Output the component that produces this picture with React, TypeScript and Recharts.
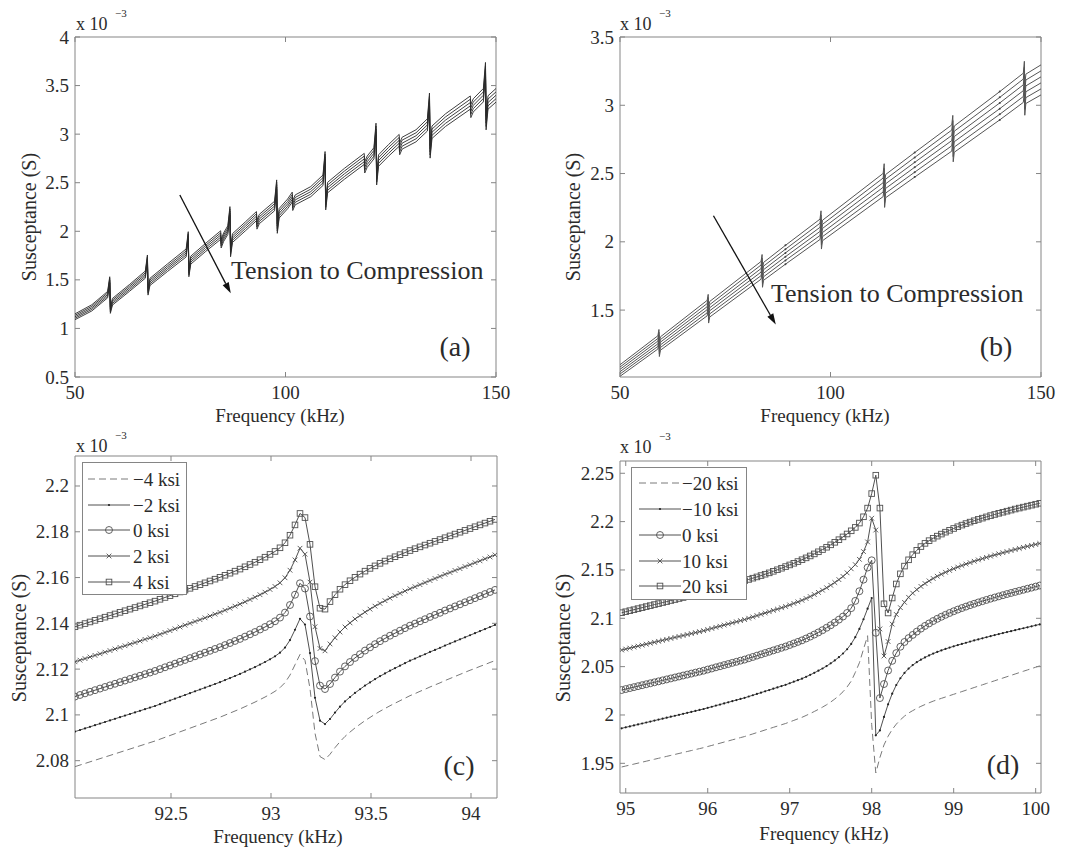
import React from "react";
import { LineChart, Line, XAxis, YAxis, ReferenceArea, ReferenceLine } from "recharts";

const SERIF = '"Liberation Serif", "Times New Roman", serif';
const INK = "#2b2b2b";
const FRAME = "#858585";
const TRACE = "#505050";

// ---------- (a) susceptance 50-150 kHz, five stress levels (tension -> compression)
const A_FREQ = [
  50, 54, 57.75, 58.25, 58.4, 58.9, 63, 66.7, 67.2, 67.35,
  67.8, 72, 76.4, 76.9, 77.05, 77.5, 81, 84.6, 84.72, 85.3,
  86.3, 86.8, 86.95, 87.4, 90.5, 93.1, 93.22, 93.8, 97.4, 97.9,
  98.05, 98.5, 100.5, 101.6, 101.72, 102.3, 106, 108.9, 109.4, 109.55,
  110, 114, 118.7, 118.82, 119.4, 121, 121.5, 121.65, 122.1, 124.5,
  127, 127.12, 127.7, 131, 133.7, 134.2, 134.35, 134.8, 138, 143.9,
  144.02, 144.6, 147, 147.5, 147.65, 148.1, 150,
];
const A_S1 = [
  1.150, 1.244, 1.381, 1.532, 1.221, 1.309, 1.454, 1.591, 1.756, 1.417,
  1.516, 1.665, 1.818, 1.996, 1.614, 1.744, 1.875, 2.005, 1.916, 1.983,
  2.057, 2.254, 1.828, 1.975, 2.098, 2.203, 2.116, 2.175, 2.309, 2.529,
  2.077, 2.235, 2.332, 2.403, 2.316, 2.374, 2.460, 2.579, 2.821, 2.328,
  2.504, 2.648, 2.802, 2.716, 2.774, 2.861, 3.113, 2.595, 2.787, 2.894,
  2.997, 2.910, 2.968, 3.045, 3.158, 3.423, 2.881, 3.084, 3.209, 3.393,
  3.306, 3.364, 3.470, 3.738, 3.182, 3.395, 3.470,
];
const A_S2 = [
  1.135, 1.228, 1.365, 1.516, 1.205, 1.292, 1.437, 1.572, 1.737, 1.398,
  1.498, 1.645, 1.797, 1.975, 1.593, 1.724, 1.854, 1.983, 1.894, 1.961,
  2.034, 2.231, 1.805, 1.952, 2.075, 2.180, 2.093, 2.151, 2.284, 2.505,
  2.053, 2.211, 2.307, 2.377, 2.290, 2.348, 2.434, 2.552, 2.794, 2.301,
  2.477, 2.620, 2.774, 2.687, 2.745, 2.832, 3.083, 2.565, 2.757, 2.864,
  2.966, 2.879, 2.938, 3.014, 3.127, 3.391, 2.849, 3.052, 3.177, 3.359,
  3.272, 3.330, 3.435, 3.704, 3.148, 3.361, 3.435,
];
const A_S3 = [
  1.120, 1.212, 1.348, 1.499, 1.188, 1.275, 1.419, 1.554, 1.719, 1.380,
  1.479, 1.626, 1.777, 1.955, 1.573, 1.703, 1.833, 1.961, 1.872, 1.939,
  2.012, 2.209, 1.783, 1.930, 2.052, 2.156, 2.069, 2.127, 2.260, 2.480,
  2.028, 2.186, 2.282, 2.352, 2.265, 2.323, 2.408, 2.525, 2.767, 2.274,
  2.450, 2.592, 2.745, 2.658, 2.716, 2.803, 3.054, 2.536, 2.728, 2.834,
  2.936, 2.849, 2.907, 2.983, 3.095, 3.359, 2.817, 3.020, 3.144, 3.325,
  3.238, 3.296, 3.401, 3.669, 3.113, 3.326, 3.400,
];
const A_S4 = [
  1.105, 1.196, 1.331, 1.482, 1.171, 1.258, 1.401, 1.536, 1.701, 1.362,
  1.460, 1.607, 1.757, 1.935, 1.553, 1.683, 1.812, 1.939, 1.850, 1.917,
  1.990, 2.187, 1.761, 1.908, 2.029, 2.132, 2.045, 2.103, 2.236, 2.455,
  2.003, 2.161, 2.257, 2.327, 2.240, 2.298, 2.382, 2.498, 2.740, 2.247,
  2.423, 2.564, 2.716, 2.629, 2.687, 2.774, 3.025, 2.507, 2.699, 2.804,
  2.906, 2.819, 2.876, 2.952, 3.063, 3.327, 2.785, 2.988, 3.111, 3.291,
  3.204, 3.262, 3.367, 3.635, 3.079, 3.291, 3.365,
];
const A_S5 = [
  1.090, 1.180, 1.315, 1.466, 1.155, 1.241, 1.384, 1.517, 1.682, 1.343,
  1.442, 1.587, 1.736, 1.914, 1.532, 1.662, 1.791, 1.917, 1.828, 1.895,
  1.967, 2.164, 1.738, 1.885, 2.006, 2.109, 2.022, 2.079, 2.211, 2.431,
  1.979, 2.137, 2.232, 2.301, 2.214, 2.272, 2.356, 2.471, 2.713, 2.220,
  2.396, 2.536, 2.688, 2.600, 2.658, 2.745, 2.995, 2.477, 2.669, 2.774,
  2.875, 2.788, 2.846, 2.921, 3.032, 3.295, 2.753, 2.956, 3.079, 3.257,
  3.170, 3.228, 3.332, 3.600, 3.044, 3.257, 3.330,
];

// ---------- (b) six stress levels, wider spread
const B_FREQ = [
  50, 59, 59.25, 59.35, 59.6, 70.7, 70.95, 71.05, 71.3, 83.5,
  83.75, 83.85, 84.1, 89.3, 97.5, 97.75, 97.85, 98.1, 112.5, 112.75,
  112.85, 113.1, 120, 128.8, 129.05, 129.15, 129.4, 140.2, 145.8, 146.05,
  146.15, 146.4, 150,
];
const B_S1 = [
  1.100, 1.312, 1.358, 1.258, 1.304, 1.571, 1.615, 1.519, 1.563, 1.856,
  1.907, 1.797, 1.849, 1.974, 2.166, 2.227, 2.097, 2.158, 2.501, 2.572,
  2.422, 2.493, 2.654, 2.856, 2.926, 2.778, 2.848, 3.100, 3.235, 3.322,
  3.142, 3.228, 3.296,
];
const B_S2 = [
  1.083, 1.292, 1.338, 1.238, 1.284, 1.548, 1.592, 1.496, 1.540, 1.830,
  1.881, 1.771, 1.822, 1.946, 2.136, 2.197, 2.067, 2.128, 2.467, 2.538,
  2.388, 2.459, 2.618, 2.818, 2.888, 2.740, 2.810, 3.058, 3.192, 3.279,
  3.099, 3.185, 3.252,
];
const B_S3 = [
  1.066, 1.273, 1.319, 1.219, 1.265, 1.525, 1.569, 1.473, 1.517, 1.804,
  1.855, 1.745, 1.796, 1.919, 2.106, 2.167, 2.037, 2.098, 2.433, 2.504,
  2.354, 2.425, 2.582, 2.779, 2.849, 2.701, 2.771, 3.017, 3.150, 3.236,
  3.056, 3.142, 3.208,
];
const B_S4 = [
  1.049, 1.253, 1.299, 1.199, 1.245, 1.503, 1.547, 1.451, 1.495, 1.778,
  1.829, 1.719, 1.770, 1.891, 2.076, 2.137, 2.007, 2.068, 2.399, 2.470,
  2.320, 2.391, 2.546, 2.741, 2.811, 2.663, 2.733, 2.975, 3.107, 3.193,
  3.013, 3.099, 3.164,
];
const B_S5 = [
  1.032, 1.234, 1.280, 1.180, 1.226, 1.480, 1.524, 1.428, 1.472, 1.752,
  1.803, 1.693, 1.744, 1.864, 2.046, 2.107, 1.977, 2.038, 2.365, 2.436,
  2.286, 2.357, 2.510, 2.703, 2.772, 2.624, 2.694, 2.934, 3.064, 3.150,
  2.970, 3.056, 3.120,
];
const B_S6 = [
  1.015, 1.215, 1.260, 1.160, 1.206, 1.458, 1.501, 1.405, 1.449, 1.726,
  1.777, 1.667, 1.718, 1.836, 2.017, 2.077, 1.947, 2.008, 2.331, 2.402,
  2.252, 2.323, 2.474, 2.664, 2.734, 2.586, 2.656, 2.893, 3.021, 3.107,
  2.927, 3.013, 3.076,
];
const B_SMALL_PEAKS = [89.3, 120, 140.2];

// ---------- (c) zoom near 93.2 kHz
const C_FREQ = [
  92.02, 92.045, 92.07, 92.095, 92.12, 92.145, 92.17, 92.195, 92.22, 92.245,
  92.27, 92.295, 92.32, 92.345, 92.37, 92.395, 92.42, 92.445, 92.47, 92.495,
  92.52, 92.545, 92.57, 92.595, 92.62, 92.645, 92.67, 92.695, 92.72, 92.745,
  92.77, 92.795, 92.82, 92.845, 92.87, 92.895, 92.92, 92.945, 92.97, 92.995,
  93.02, 93.045, 93.07, 93.095, 93.12, 93.145, 93.17, 93.195, 93.22, 93.245,
  93.27, 93.295, 93.32, 93.345, 93.37, 93.395, 93.42, 93.445, 93.47, 93.495,
  93.52, 93.545, 93.57, 93.595, 93.62, 93.645, 93.67, 93.695, 93.72, 93.745,
  93.77, 93.795, 93.82, 93.845, 93.87, 93.895, 93.92, 93.945, 93.97, 93.995,
  94.02, 94.045, 94.07, 94.095, 94.12,
];
const C_M4 = [
  2.0774, 2.0781, 2.0788, 2.0795, 2.0802, 2.0809, 2.0816, 2.0823, 2.0830, 2.0837,
  2.0844, 2.0851, 2.0858, 2.0865, 2.0872, 2.0879, 2.0886, 2.0894, 2.0902, 2.0910,
  2.0918, 2.0926, 2.0934, 2.0942, 2.0950, 2.0958, 2.0966, 2.0974, 2.0982, 2.0990,
  2.0999, 2.1008, 2.1017, 2.1026, 2.1036, 2.1046, 2.1056, 2.1067, 2.1078, 2.1090,
  2.1103, 2.1119, 2.1141, 2.1174, 2.1219, 2.1264, 2.1238, 2.1115, 2.0920, 2.0818,
  2.0805, 2.0828, 2.0857, 2.0883, 2.0906, 2.0925, 2.0943, 2.0959, 2.0975, 2.0989,
  2.1003, 2.1016, 2.1028, 2.1040, 2.1051, 2.1062, 2.1073, 2.1084, 2.1093, 2.1103,
  2.1112, 2.1122, 2.1131, 2.1140, 2.1150, 2.1159, 2.1168, 2.1177, 2.1186, 2.1195,
  2.1203, 2.1212, 2.1220, 2.1229, 2.1237,
];
const C_M2 = [
  2.0927, 2.0934, 2.0941, 2.0948, 2.0955, 2.0962, 2.0969, 2.0976, 2.0983, 2.0990,
  2.0997, 2.1004, 2.1011, 2.1018, 2.1025, 2.1032, 2.1039, 2.1047, 2.1055, 2.1063,
  2.1071, 2.1079, 2.1087, 2.1095, 2.1103, 2.1111, 2.1119, 2.1127, 2.1135, 2.1143,
  2.1152, 2.1161, 2.1170, 2.1179, 2.1189, 2.1199, 2.1209, 2.1220, 2.1231, 2.1243,
  2.1256, 2.1272, 2.1294, 2.1327, 2.1372, 2.1420, 2.1395, 2.1270, 2.1075, 2.0975,
  2.0960, 2.0982, 2.1010, 2.1036, 2.1059, 2.1078, 2.1096, 2.1112, 2.1128, 2.1142,
  2.1156, 2.1169, 2.1181, 2.1193, 2.1204, 2.1215, 2.1226, 2.1237, 2.1246, 2.1256,
  2.1265, 2.1275, 2.1284, 2.1293, 2.1303, 2.1312, 2.1321, 2.1330, 2.1339, 2.1348,
  2.1357, 2.1366, 2.1375, 2.1384, 2.1393,
];
const C_0 = [
  2.1080, 2.1087, 2.1094, 2.1101, 2.1108, 2.1115, 2.1122, 2.1129, 2.1136, 2.1143,
  2.1150, 2.1157, 2.1164, 2.1171, 2.1178, 2.1185, 2.1192, 2.1200, 2.1208, 2.1216,
  2.1224, 2.1232, 2.1240, 2.1248, 2.1256, 2.1264, 2.1272, 2.1280, 2.1288, 2.1296,
  2.1305, 2.1314, 2.1323, 2.1332, 2.1342, 2.1352, 2.1362, 2.1373, 2.1384, 2.1396,
  2.1409, 2.1425, 2.1447, 2.1480, 2.1525, 2.1575, 2.1552, 2.1430, 2.1235, 2.1128,
  2.1113, 2.1135, 2.1163, 2.1189, 2.1212, 2.1231, 2.1249, 2.1265, 2.1281, 2.1295,
  2.1309, 2.1322, 2.1334, 2.1346, 2.1357, 2.1368, 2.1379, 2.1390, 2.1399, 2.1409,
  2.1418, 2.1428, 2.1437, 2.1446, 2.1456, 2.1465, 2.1474, 2.1483, 2.1492, 2.1501,
  2.1510, 2.1519, 2.1528, 2.1537, 2.1546,
];
const C_P2 = [
  2.1232, 2.1239, 2.1246, 2.1253, 2.1260, 2.1267, 2.1274, 2.1281, 2.1288, 2.1295,
  2.1302, 2.1309, 2.1316, 2.1323, 2.1330, 2.1337, 2.1344, 2.1352, 2.1360, 2.1368,
  2.1376, 2.1384, 2.1392, 2.1400, 2.1408, 2.1416, 2.1424, 2.1432, 2.1440, 2.1448,
  2.1457, 2.1466, 2.1475, 2.1484, 2.1494, 2.1504, 2.1514, 2.1525, 2.1536, 2.1548,
  2.1561, 2.1577, 2.1599, 2.1632, 2.1677, 2.1728, 2.1702, 2.1580, 2.1385, 2.1290,
  2.1280, 2.1310, 2.1337, 2.1362, 2.1384, 2.1402, 2.1419, 2.1434, 2.1449, 2.1462,
  2.1475, 2.1487, 2.1499, 2.1510, 2.1521, 2.1531, 2.1541, 2.1551, 2.1560, 2.1569,
  2.1578, 2.1587, 2.1596, 2.1605, 2.1614, 2.1622, 2.1631, 2.1639, 2.1648, 2.1656,
  2.1665, 2.1673, 2.1682, 2.1690, 2.1699,
];
const C_P4 = [
  2.1385, 2.1392, 2.1399, 2.1406, 2.1413, 2.1420, 2.1427, 2.1434, 2.1441, 2.1448,
  2.1455, 2.1462, 2.1469, 2.1476, 2.1483, 2.1490, 2.1497, 2.1505, 2.1513, 2.1521,
  2.1529, 2.1537, 2.1545, 2.1553, 2.1561, 2.1569, 2.1577, 2.1585, 2.1593, 2.1601,
  2.1610, 2.1619, 2.1628, 2.1637, 2.1647, 2.1657, 2.1667, 2.1678, 2.1689, 2.1701,
  2.1714, 2.1730, 2.1752, 2.1785, 2.1830, 2.1880, 2.1862, 2.1745, 2.1560, 2.1466,
  2.1462, 2.1495, 2.1525, 2.1549, 2.1569, 2.1586, 2.1601, 2.1615, 2.1628, 2.1640,
  2.1651, 2.1662, 2.1672, 2.1682, 2.1691, 2.1700, 2.1709, 2.1718, 2.1726, 2.1734,
  2.1742, 2.1750, 2.1758, 2.1766, 2.1774, 2.1782, 2.1790, 2.1798, 2.1806, 2.1814,
  2.1822, 2.1830, 2.1838, 2.1846, 2.1854,
];
const C_LEGEND = ["\u22124 ksi", "\u22122 ksi", "0 ksi", "2 ksi", "4 ksi"];

// ---------- (d) zoom near 98 kHz
const D_FREQ = [
  94.95, 95, 95.05, 95.1, 95.15, 95.2, 95.25, 95.3, 95.35, 95.4,
  95.45, 95.5, 95.55, 95.6, 95.65, 95.7, 95.75, 95.8, 95.85, 95.9,
  95.95, 96, 96.05, 96.1, 96.15, 96.2, 96.25, 96.3, 96.35, 96.4,
  96.45, 96.5, 96.55, 96.6, 96.65, 96.7, 96.75, 96.8, 96.85, 96.9,
  96.95, 97, 97.05, 97.1, 97.15, 97.2, 97.25, 97.3, 97.35, 97.4,
  97.45, 97.5, 97.55, 97.6, 97.65, 97.7, 97.75, 97.8, 97.85, 97.9,
  97.95, 98, 98.05, 98.1, 98.15, 98.2, 98.25, 98.3, 98.35, 98.4,
  98.45, 98.5, 98.55, 98.6, 98.65, 98.7, 98.75, 98.8, 98.85, 98.9,
  98.95, 99, 99.05, 99.1, 99.15, 99.2, 99.25, 99.3, 99.35, 99.4,
  99.45, 99.5, 99.55, 99.6, 99.65, 99.7, 99.75, 99.8, 99.85, 99.9,
  99.95, 100, 100.05,
];
const D_M20 = [
  1.9462, 1.9472, 1.9482, 1.9492, 1.9502, 1.9512, 1.9522, 1.9532, 1.9542, 1.9552,
  1.9562, 1.9572, 1.9582, 1.9592, 1.9602, 1.9612, 1.9622, 1.9632, 1.9642, 1.9652,
  1.9662, 1.9674, 1.9685, 1.9697, 1.9708, 1.9720, 1.9731, 1.9743, 1.9754, 1.9766,
  1.9777, 1.9791, 1.9804, 1.9818, 1.9831, 1.9845, 1.9858, 1.9872, 1.9885, 1.9899,
  1.9912, 1.9928, 1.9944, 1.9960, 1.9976, 1.9995, 2.0015, 2.0036, 2.0058, 2.0081,
  2.0106, 2.0134, 2.0165, 2.0200, 2.0240, 2.0290, 2.0350, 2.0440, 2.0540, 2.0680,
  2.0820, 1.9900, 1.9400, 1.9560, 1.9690, 1.9780, 1.9850, 1.9905, 1.9950, 1.9988,
  2.0020, 2.0045, 2.0068, 2.0089, 2.0108, 2.0126, 2.0143, 2.0158, 2.0172, 2.0186,
  2.0200, 2.0214, 2.0228, 2.0242, 2.0256, 2.0270, 2.0284, 2.0298, 2.0312, 2.0326,
  2.0340, 2.0354, 2.0368, 2.0382, 2.0396, 2.0410, 2.0424, 2.0438, 2.0452, 2.0466,
  2.0480, 2.0494, 2.0508,
];
const D_M10 = [
  1.9862, 1.9872, 1.9882, 1.9892, 1.9902, 1.9912, 1.9922, 1.9932, 1.9942, 1.9952,
  1.9962, 1.9972, 1.9982, 1.9992, 2.0002, 2.0012, 2.0022, 2.0032, 2.0042, 2.0052,
  2.0062, 2.0074, 2.0085, 2.0097, 2.0108, 2.0120, 2.0131, 2.0143, 2.0154, 2.0166,
  2.0177, 2.0191, 2.0204, 2.0218, 2.0231, 2.0245, 2.0258, 2.0272, 2.0285, 2.0299,
  2.0312, 2.0328, 2.0344, 2.0360, 2.0376, 2.0395, 2.0415, 2.0436, 2.0458, 2.0481,
  2.0506, 2.0534, 2.0564, 2.0598, 2.0636, 2.0680, 2.0735, 2.0805, 2.0890, 2.0990,
  2.1100, 2.1210, 1.9790, 1.9840, 1.9980, 2.0110, 2.0220, 2.0310, 2.0380, 2.0435,
  2.0480, 2.0516, 2.0546, 2.0572, 2.0595, 2.0616, 2.0635, 2.0652, 2.0668, 2.0683,
  2.0697, 2.0710, 2.0723, 2.0735, 2.0747, 2.0759, 2.0771, 2.0782, 2.0793, 2.0804,
  2.0815, 2.0826, 2.0837, 2.0847, 2.0857, 2.0867, 2.0877, 2.0887, 2.0897, 2.0907,
  2.0917, 2.0927, 2.0937,
];
const D_0 = [
  2.0258, 2.0268, 2.0278, 2.0288, 2.0298, 2.0308, 2.0318, 2.0328, 2.0338, 2.0348,
  2.0358, 2.0368, 2.0378, 2.0388, 2.0398, 2.0408, 2.0418, 2.0428, 2.0438, 2.0448,
  2.0458, 2.0470, 2.0481, 2.0493, 2.0504, 2.0516, 2.0527, 2.0539, 2.0550, 2.0562,
  2.0573, 2.0587, 2.0600, 2.0614, 2.0627, 2.0641, 2.0654, 2.0668, 2.0681, 2.0695,
  2.0708, 2.0724, 2.0740, 2.0756, 2.0772, 2.0791, 2.0811, 2.0832, 2.0854, 2.0877,
  2.0902, 2.0928, 2.0956, 2.0986, 2.1018, 2.1055, 2.1105, 2.1180, 2.1280, 2.1400,
  2.1525, 2.1600, 2.0850, 2.0175, 2.0320, 2.0460, 2.0560, 2.0640, 2.0706, 2.0755,
  2.0795, 2.0828, 2.0862, 2.0893, 2.0921, 2.0947, 2.0972, 2.0995, 2.1016, 2.1036,
  2.1055, 2.1073, 2.1090, 2.1106, 2.1121, 2.1136, 2.1150, 2.1164, 2.1177, 2.1190,
  2.1203, 2.1215, 2.1227, 2.1239, 2.1251, 2.1262, 2.1273, 2.1284, 2.1295, 2.1306,
  2.1317, 2.1328, 2.1339,
];
const D_P10 = [
  2.0672, 2.0682, 2.0692, 2.0702, 2.0712, 2.0722, 2.0732, 2.0742, 2.0752, 2.0762,
  2.0772, 2.0782, 2.0792, 2.0802, 2.0812, 2.0822, 2.0832, 2.0842, 2.0852, 2.0862,
  2.0872, 2.0884, 2.0895, 2.0907, 2.0918, 2.0930, 2.0941, 2.0953, 2.0964, 2.0976,
  2.0987, 2.1001, 2.1014, 2.1028, 2.1041, 2.1055, 2.1068, 2.1082, 2.1095, 2.1109,
  2.1122, 2.1138, 2.1154, 2.1170, 2.1186, 2.1205, 2.1225, 2.1246, 2.1268, 2.1291,
  2.1316, 2.1342, 2.1370, 2.1400, 2.1433, 2.1470, 2.1512, 2.1555, 2.1610, 2.1690,
  2.1790, 2.2035, 2.1913, 2.0890, 2.0610, 2.0760, 2.0940, 2.1040, 2.1110, 2.1165,
  2.1217, 2.1260, 2.1297, 2.1330, 2.1360, 2.1387, 2.1412, 2.1435, 2.1456, 2.1476,
  2.1495, 2.1513, 2.1530, 2.1546, 2.1561, 2.1576, 2.1590, 2.1604, 2.1617, 2.1630,
  2.1643, 2.1655, 2.1667, 2.1679, 2.1690, 2.1701, 2.1712, 2.1723, 2.1734, 2.1744,
  2.1754, 2.1764, 2.1774,
];
const D_P20 = [
  2.1058, 2.1068, 2.1079, 2.1089, 2.1100, 2.1110, 2.1121, 2.1131, 2.1142, 2.1152,
  2.1163, 2.1173, 2.1184, 2.1194, 2.1205, 2.1215, 2.1226, 2.1236, 2.1247, 2.1257,
  2.1268, 2.1279, 2.1290, 2.1301, 2.1313, 2.1325, 2.1337, 2.1350, 2.1363, 2.1376,
  2.1389, 2.1402, 2.1415, 2.1428, 2.1442, 2.1456, 2.1470, 2.1486, 2.1502, 2.1518,
  2.1535, 2.1552, 2.1569, 2.1587, 2.1606, 2.1625, 2.1645, 2.1666, 2.1688, 2.1711,
  2.1735, 2.1760, 2.1786, 2.1813, 2.1842, 2.1872, 2.1905, 2.1940, 2.1985, 2.2050,
  2.2140, 2.2290, 2.2480, 2.2140, 2.1150, 2.1055, 2.1210, 2.1355, 2.1460, 2.1540,
  2.1605, 2.1658, 2.1703, 2.1742, 2.1775, 2.1803, 2.1828, 2.1850, 2.1871, 2.1891,
  2.1910, 2.1929, 2.1947, 2.1964, 2.1980, 2.1995, 2.2009, 2.2023, 2.2036, 2.2049,
  2.2062, 2.2074, 2.2086, 2.2097, 2.2108, 2.2119, 2.2130, 2.2140, 2.2150, 2.2160,
  2.2170, 2.2180, 2.2190,
];
const D_LEGEND = ["\u221220 ksi", "\u221210 ksi", "0 ksi", "10 ksi", "20 ksi"];

// ticks
const AB_XTICKS = [50, 100, 150];
const A_YTICKS = [0.5, 1, 1.5, 2, 2.5, 3, 3.5, 4];
const B_YTICKS = [1.5, 2, 2.5, 3, 3.5];
const C_XTICKS = [92.5, 93, 93.5, 94];
const C_YTICKS = [2.08, 2.1, 2.12, 2.14, 2.16, 2.18, 2.2];
const D_XTICKS = [95, 96, 97, 98, 99, 100];
const D_YTICKS = [1.95, 2, 2.05, 2.1, 2.15, 2.2, 2.25];

type Row = Record<string, number>;
function toRows(freq: number[], series: number[][]): Row[] {
  return freq.map((f, i) => {
    const row: Row = { f };
    series.forEach((s, k) => {
      row[`s${k}`] = s[i];
    });
    return row;
  });
}

type Kind = "dashed" | "dot" | "circle" | "cross" | "square";
const KSI_KINDS: Kind[] = ["dashed", "dot", "circle", "cross", "square"];

function Marker({ kind, cx, cy, size }: { kind: Kind; cx: number; cy: number; size: number }) {
  if (kind === "dot") return <circle cx={cx} cy={cy} r={1.1} fill="#222" />;
  if (kind === "circle")
    return <circle cx={cx} cy={cy} r={size * 0.62} fill="none" stroke={TRACE} strokeWidth={0.9} />;
  if (kind === "square") {
    const h = size / 2;
    return <rect x={cx - h} y={cy - h} width={size} height={size} fill="none" stroke={TRACE} strokeWidth={0.9} />;
  }
  if (kind === "cross") {
    const h = size * 0.42;
    return (
      <path
        d={`M${cx - h},${cy - h}L${cx + h},${cy + h}M${cx - h},${cy + h}L${cx + h},${cy - h}`}
        stroke={TRACE}
        strokeWidth={0.9}
      />
    );
  }
  return null;
}

function dotFor(kind: Kind, size: number, id: string) {
  if (kind === "dashed") return false;
  return (p: any) => (
    <g key={`${id}-${p.index}`}>
      <Marker kind={kind} cx={p.cx} cy={p.cy} size={size} />
    </g>
  );
}

// inward ticks on all four sides, like the original figure
function makeXTick(plotTop: number) {
  return (p: any) => (
    <g>
      <line x1={p.x} x2={p.x} y1={p.y} y2={p.y - 5} stroke={FRAME} />
      <line x1={p.x} x2={p.x} y1={plotTop} y2={plotTop + 5} stroke={FRAME} />
      <text x={p.x} y={p.y + 15} textAnchor="middle" dominantBaseline="central" fontFamily={SERIF} fontSize={19} fill={INK}>
        {String(p.payload.value)}
      </text>
    </g>
  );
}
function makeYTick(plotRight: number) {
  return (p: any) => (
    <g>
      <line x1={p.x} x2={p.x + 5} y1={p.y} y2={p.y} stroke={FRAME} />
      <line x1={plotRight} x2={plotRight - 5} y1={p.y} y2={p.y} stroke={FRAME} />
      <text x={p.x - 6} y={p.y} textAnchor="end" dominantBaseline="central" fontFamily={SERIF} fontSize={19} fill={INK}>
        {String(p.payload.value)}
      </text>
    </g>
  );
}

function arrowShape(p: any) {
  const { x1, y1, x2, y2 } = p;
  if (x1 == null) return <g />;
  const a = Math.atan2(y2 - y1, x2 - x1);
  const len = 11;
  const w = 3.4;
  const bx = x2 - len * Math.cos(a);
  const by = y2 - len * Math.sin(a);
  const pts = `${x2},${y2} ${bx + w * Math.sin(a)},${by - w * Math.cos(a)} ${bx - w * Math.sin(a)},${by + w * Math.cos(a)}`;
  return (
    <g>
      <line x1={x1} y1={y1} x2={bx} y2={by} stroke="#111" strokeWidth={1.3} />
      <polygon points={pts} fill="#111" />
    </g>
  );
}

type PanelProps = {
  left: number;
  top: number;
  width: number;
  height: number;
  margin: { top: number; right: number; bottom: number; left: number };
  yWidth: number;
  xDomain: [number, number];
  yDomain: [number, number];
  xTicks: number[];
  yTicks: number[];
  data: Row[];
  children: React.ReactNode;
};

function Panel(props: PanelProps) {
  const { left, top, width, height, margin, yWidth, xDomain, yDomain, xTicks, yTicks, data, children } = props;
  const plotTop = margin.top;
  const plotRight = width - margin.right;
  return (
    <div style={{ position: "absolute", left, top }}>
      <LineChart width={width} height={height} margin={margin} data={data}>
        <XAxis
          dataKey="f"
          type="number"
          domain={xDomain}
          ticks={xTicks}
          interval={0}
          allowDataOverflow
          height={40}
          tickSize={0}
          tickMargin={0}
          axisLine={false}
          tickLine={false}
          tick={makeXTick(plotTop)}
        />
        <YAxis
          type="number"
          domain={yDomain}
          ticks={yTicks}
          interval={0}
          allowDataOverflow
          width={yWidth}
          tickSize={0}
          tickMargin={0}
          axisLine={false}
          tickLine={false}
          tick={makeYTick(plotRight)}
        />
        <ReferenceArea
          x1={xDomain[0]}
          x2={xDomain[1]}
          y1={yDomain[0]}
          y2={yDomain[1]}
          fill="none"
          stroke={FRAME}
          strokeWidth={1}
          ifOverflow="visible"
        />
        {children}
      </LineChart>
    </div>
  );
}

function Txt({
  x,
  y,
  size,
  children,
  center = true,
  rotate = false,
}: {
  x: number;
  y: number;
  size: number;
  children: React.ReactNode;
  center?: boolean;
  rotate?: boolean;
}) {
  const transform = center ? `translate(-50%, -50%)${rotate ? " rotate(-90deg)" : ""}` : undefined;
  return (
    <div
      style={{
        position: "absolute",
        left: x,
        top: y,
        transform,
        fontFamily: SERIF,
        fontSize: size,
        lineHeight: 1,
        color: INK,
        whiteSpace: "nowrap",
        pointerEvents: "none",
      }}
    >
      {children}
    </div>
  );
}

function Scale({ x, y }: { x: number; y: number }) {
  return (
    <>
      <Txt x={x} y={y} size={18} center={false}>
        x 10
      </Txt>
      <Txt x={x + 39} y={y - 7} size={11} center={false}>
        {"\u22123"}
      </Txt>
    </>
  );
}

function KsiLegend({
  left,
  top,
  width,
  height,
  labels,
  rowY,
  lineX,
  textX,
  size,
}: {
  left: number;
  top: number;
  width: number;
  height: number;
  labels: string[];
  rowY: number[];
  lineX: [number, number];
  textX: number;
  size: number;
}) {
  return (
    <svg style={{ position: "absolute", left, top }} width={width} height={height}>
      <rect x={0.5} y={0.5} width={width - 1} height={height - 1} fill="#fff" stroke={FRAME} />
      {labels.map((lab, i) => {
        const kind = KSI_KINDS[i];
        const y = rowY[i];
        return (
          <g key={lab}>
            <line
              x1={lineX[0]}
              x2={lineX[1]}
              y1={y}
              y2={y}
              stroke={kind === "dashed" ? "#7a7a7a" : TRACE}
              strokeDasharray={kind === "dashed" ? "7 4" : undefined}
            />
            <Marker kind={kind} cx={(lineX[0] + lineX[1]) / 2} cy={y} size={size} />
            <text x={textX} y={y} dominantBaseline="central" fontFamily={SERIF} fontSize={19} fill={INK}>
              {lab}
            </text>
          </g>
        );
      })}
    </svg>
  );
}

const A_ROWS = toRows(A_FREQ, [A_S1, A_S2, A_S3, A_S4, A_S5]);
const B_ROWS = toRows(B_FREQ, [B_S1, B_S2, B_S3, B_S4, B_S5, B_S6]);
const C_ROWS = toRows(C_FREQ, [C_M4, C_M2, C_0, C_P2, C_P4]);
const D_ROWS = toRows(D_FREQ, [D_M20, D_M10, D_0, D_P10, D_P20]);

// arrow annotations, in data units
const A_ARROW = [
  { x: 74.9, y: 2.374 },
  { x: 87.0, y: 1.361 },
];
const B_ARROW = [
  { x: 72.2, y: 2.191 },
  { x: 87.0, y: 1.394 },
];

function bDot(id: string) {
  return (p: any) =>
    B_SMALL_PEAKS.includes(p.payload.f) ? (
      <circle key={`${id}-${p.index}`} cx={p.cx} cy={p.cy} r={1} fill="#444" />
    ) : (
      <g key={`${id}-${p.index}`} />
    );
}

export default function App() {
  return (
    <div style={{ position: "absolute", left: 0, top: 0, width: 1074, height: 847, background: "#fff" }}>
      {/* (a) */}
      <Panel
        left={0}
        top={0}
        width={540}
        height={420}
        margin={{ top: 37, right: 44, bottom: 3, left: 0 }}
        yWidth={75}
        xDomain={[50, 150]}
        yDomain={[0.5, 4]}
        xTicks={AB_XTICKS}
        yTicks={A_YTICKS}
        data={A_ROWS}
      >
        {[0, 1, 2, 3, 4].map((k) => (
          <Line
            key={k}
            dataKey={`s${k}`}
            type="linear"
            stroke="#2a2a2a"
            strokeWidth={0.9}
            dot={false}
            isAnimationActive={false}
          />
        ))}
        <ReferenceLine segment={A_ARROW} shape={arrowShape} ifOverflow="visible" />
      </Panel>

      {/* (b) */}
      <Panel
        left={534}
        top={0}
        width={540}
        height={420}
        margin={{ top: 37, right: 33, bottom: 3, left: 0 }}
        yWidth={86}
        xDomain={[50, 150]}
        yDomain={[1.01, 3.5]}
        xTicks={AB_XTICKS}
        yTicks={B_YTICKS}
        data={B_ROWS}
      >
        {[0, 1, 2, 3, 4, 5].map((k) => (
          <Line
            key={k}
            dataKey={`s${k}`}
            type="linear"
            stroke="#555"
            strokeWidth={1}
            dot={bDot(`b${k}`)}
            isAnimationActive={false}
          />
        ))}
        <ReferenceLine segment={B_ARROW} shape={arrowShape} ifOverflow="visible" />
      </Panel>

      {/* (c) */}
      <Panel
        left={0}
        top={420}
        width={540}
        height={427}
        margin={{ top: 36, right: 43, bottom: 9, left: 0 }}
        yWidth={75}
        xDomain={[92.02, 94.13]}
        yDomain={[2.0637, 2.2131]}
        xTicks={C_XTICKS}
        yTicks={C_YTICKS}
        data={C_ROWS}
      >
        {KSI_KINDS.map((kind, k) => (
          <Line
            key={k}
            dataKey={`s${k}`}
            type="linear"
            stroke={kind === "dashed" ? "#7a7a7a" : TRACE}
            strokeDasharray={kind === "dashed" ? "7 4" : undefined}
            strokeWidth={1}
            dot={dotFor(kind, 5.6, `c${k}`)}
            isAnimationActive={false}
          />
        ))}
      </Panel>

      {/* (d) */}
      <Panel
        left={534}
        top={420}
        width={540}
        height={427}
        margin={{ top: 41, right: 33, bottom: 14, left: 0 }}
        yWidth={86}
        xDomain={[94.93, 100.065]}
        yDomain={[1.9193, 2.2627]}
        xTicks={D_XTICKS}
        yTicks={D_YTICKS}
        data={D_ROWS}
      >
        {KSI_KINDS.map((kind, k) => (
          <Line
            key={k}
            dataKey={`s${k}`}
            type="linear"
            stroke={kind === "dashed" ? "#7a7a7a" : TRACE}
            strokeDasharray={kind === "dashed" ? "7 4" : undefined}
            strokeWidth={1}
            dot={dotFor(kind, 5.6, `d${k}`)}
            isAnimationActive={false}
          />
        ))}
      </Panel>

      {/* legends */}
      <KsiLegend
        left={82}
        top={462}
        width={105}
        height={133}
        labels={C_LEGEND}
        rowY={[17, 43, 68, 94, 120]}
        lineX={[6, 48]}
        textX={51}
        size={5.6}
      />
      <KsiLegend
        left={631}
        top={467}
        width={116}
        height={133}
        labels={D_LEGEND}
        rowY={[16, 42, 68, 94, 119]}
        lineX={[8, 50]}
        textX={51}
        size={5.6}
      />

      {/* axis scale notes */}
      <Scale x={76} y={15} />
      <Scale x={620} y={15} />
      <Scale x={76} y={437} />
      <Scale x={620} y={438} />

      {/* axis titles */}
      <Txt x={29} y={217} size={20} rotate>
        Susceptance (S)
      </Txt>
      <Txt x={573} y={217} size={20} rotate>
        Susceptance (S)
      </Txt>
      <Txt x={19} y={638} size={20} rotate>
        Susceptance (S)
      </Txt>
      <Txt x={563} y={638} size={20} rotate>
        Susceptance (S)
      </Txt>
      <Txt x={280} y={415} size={19}>
        Frequency (kHz)
      </Txt>
      <Txt x={825} y={415} size={19}>
        Frequency (kHz)
      </Txt>
      <Txt x={278} y={836} size={19}>
        Frequency (kHz)
      </Txt>
      <Txt x={824} y={833} size={19}>
        Frequency (kHz)
      </Txt>

      {/* annotations */}
      <Txt x={231} y={258} size={26} center={false}>
        Tension to Compression
      </Txt>
      <Txt x={771} y={281} size={26} center={false}>
        Tension to Compression
      </Txt>
      <Txt x={455} y={347} size={28}>
        (a)
      </Txt>
      <Txt x={996} y={347} size={28}>
        (b)
      </Txt>
      <Txt x={459} y={766} size={28}>
        (c)
      </Txt>
      <Txt x={1003} y={765} size={28}>
        (d)
      </Txt>
    </div>
  );
}
